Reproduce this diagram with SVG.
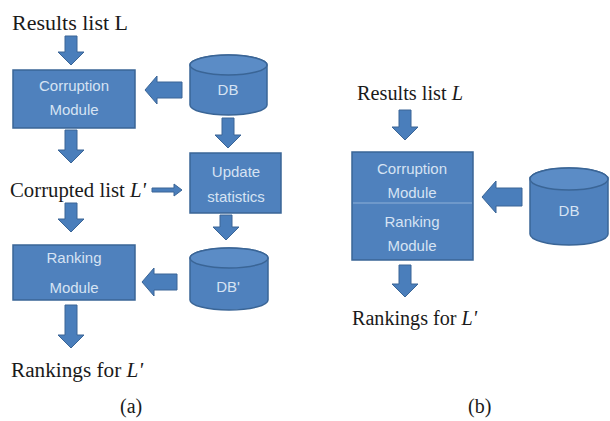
<svg xmlns="http://www.w3.org/2000/svg" width="610" height="421" viewBox="0 0 610 421">
<style>
.bg{fill:#ffffff}
.box{fill:#4f81bd;stroke:#3a6596;stroke-width:1.5}
.arr{fill:#4a7ebb;stroke:#3a6596;stroke-width:1}
.cyl{fill:#4f81bd;stroke:#3a6596;stroke-width:1.5}
.cyltop{fill:#5b8cc6;stroke:#3a6596;stroke-width:1.5}
.in{font-family:"Liberation Sans","DejaVu Sans",sans-serif;font-size:15px;fill:#d6e3f3;text-anchor:middle}
.lbl{font-family:"Liberation Serif","DejaVu Serif",serif;font-size:20px;fill:#1a1a1a}
.it{font-style:italic}
.div{stroke:#8fb0d8;stroke-width:1}
</style>
<rect class="bg" x="0" y="0" width="610" height="421"/>

<g id="connectors">
<polygon class="arr" points="65,36 77,36 77,52 84,52 71,65 58,52 65,52"/>
<polygon class="arr" points="222,118 234,118 234,135 241,135 228,148 215,135 222,135"/>
<polygon class="arr" points="65,130 77,130 77,150 84,150 71,163 58,150 65,150"/>
<polygon class="arr" points="65,203 77,203 77,219 84,219 71,232 58,219 65,219"/>
<polygon class="arr" points="220,215 232,215 232,227 239,227 226,240 213,227 220,227"/>
<polygon class="arr" points="65,305 77,305 77,335 84,335 71,348 58,335 65,335"/>
<polygon class="arr" points="182,82 182,98 157,98 157,104 145,90 157,76 157,82"/>
<polygon class="arr" points="177,274 177,290 154,290 154,296 142,282 154,268 154,274"/>
<polygon class="arr" points="152,188 174,188 174,184 182,190 174,196 174,192 152,192"/>
<polygon class="arr" points="399,110 411,110 411,127 418,127 405,140 392,127 399,127"/>
<polygon class="arr" points="399,265 411,265 411,284 418,284 405,297 392,284 399,284"/>
<polygon class="arr" points="522,188 522,206 496,206 496,213 482,197 496,181 496,188"/>
</g>

<g id="results-a"><text class="lbl" x="12" y="30" textLength="116" lengthAdjust="spacingAndGlyphs">Results list L</text></g>

<g id="corruption-a">
<rect class="box" x="13" y="70" width="122" height="58"/>
<text class="in" x="74" y="91" font-size="16">Corruption</text>
<text class="in" x="74" y="115" font-size="16">Module</text>
</g>

<g id="db-a">
<path class="cyl" d="M190,65 A38.5,10 0 0 1 267,65 V105 A38.5,10 0 0 1 190,105 Z"/>
<ellipse class="cyltop" cx="228.5" cy="65" rx="38.5" ry="10"/>
<text class="in" x="228" y="95">DB</text>
</g>

<g id="corrupted-a"><text class="lbl" x="10" y="197" textLength="136" lengthAdjust="spacingAndGlyphs">Corrupted list <tspan class="it">L'</tspan></text></g>

<g id="update-a">
<rect class="box" x="190" y="153" width="91" height="60"/>
<text class="in" x="236" y="177">Update</text>
<text class="in" x="236" y="202">statistics</text>
</g>

<g id="ranking-a">
<rect class="box" x="13" y="245" width="122" height="55"/>
<text class="in" x="74" y="263">Ranking</text>
<text class="in" x="74" y="293">Module</text>
</g>

<g id="dbprime-a">
<path class="cyl" d="M190,258 A39,10 0 0 1 268,258 V300 A39,10 0 0 1 190,300 Z"/>
<ellipse class="cyltop" cx="229" cy="258" rx="39" ry="10"/>
<text class="in" x="228" y="292">DB'</text>
</g>

<g id="rankings-a"><text class="lbl" x="11" y="377" textLength="132" lengthAdjust="spacingAndGlyphs">Rankings for <tspan class="it">L'</tspan></text></g>
<g id="label-a"><text class="lbl" x="120" y="413" font-size="18">(a)</text></g>

<g id="results-b"><text class="lbl" x="357" y="100" font-size="19" textLength="106" lengthAdjust="spacingAndGlyphs">Results list <tspan class="it">L</tspan></text></g>

<g id="module-b">
<rect class="box" x="352" y="152" width="121" height="108"/>
<line class="div" x1="353" y1="203" x2="472" y2="203"/>
<text class="in" x="412" y="174" font-size="16">Corruption</text>
<text class="in" x="412" y="198" font-size="16">Module</text>
<text class="in" x="412" y="227" font-size="16">Ranking</text>
<text class="in" x="412" y="251" font-size="16">Module</text>
</g>

<g id="db-b">
<path class="cyl" d="M530,179 A39,11 0 0 1 608,179 V234 A39,11 0 0 1 530,234 Z"/>
<ellipse class="cyltop" cx="569" cy="179" rx="39" ry="11"/>
<text class="in" x="569" y="216">DB</text>
</g>

<g id="rankings-b"><text class="lbl" x="352" y="325" font-size="19" textLength="125" lengthAdjust="spacingAndGlyphs">Rankings for <tspan class="it">L'</tspan></text></g>
<g id="label-b"><text class="lbl" x="468" y="413" font-size="18">(b)</text></g>
</svg>
